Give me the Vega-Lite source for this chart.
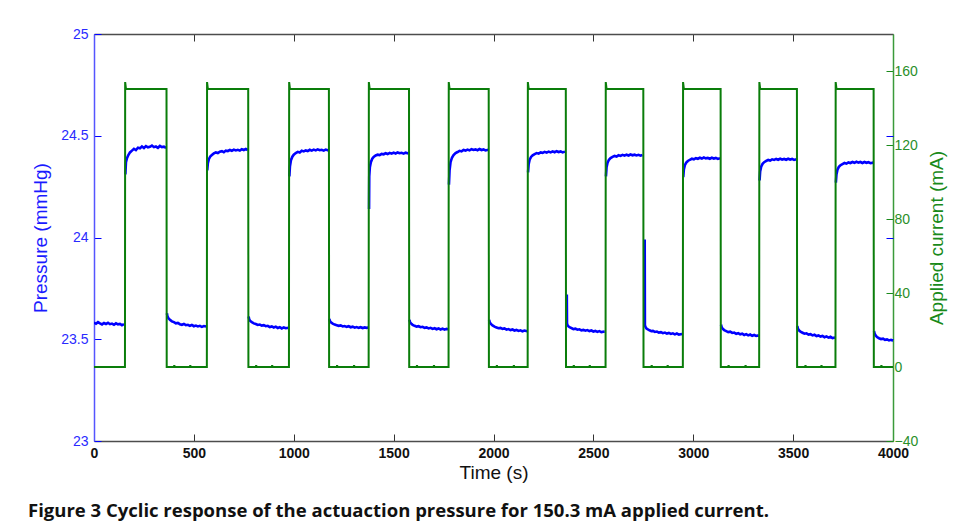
{
  "$schema": "https://vega.github.io/schema/vega-lite/v6.json",
  "width": 799,
  "height": 407,
  "autosize": {"type": "none"},
  "padding": {"left": 94, "top": 34, "right": 63, "bottom": 89},
  "background": "white",
  "config": {"view": {"stroke": null}},
  "title": {
    "text": "Figure 3 Cyclic response of the actuaction pressure for 150.3 mA applied current.",
    "orient": "bottom",
    "anchor": "start",
    "frame": "group",
    "dx": -66,
    "offset": 20,
    "font": "Open Sans",
    "fontSize": 18.5,
    "fontWeight": "bold",
    "color": "#111111"
  },
  "datasets": {
    "p": [
      {"t":0,"p":23.582,"s":0},{"t":10,"p":23.576,"s":0},{"t":20,"p":23.584,"s":0},{"t":30,"p":23.578,"s":0},{"t":40,"p":23.573,"s":0},{"t":50,"p":23.580,"s":0},{"t":60,"p":23.575,"s":0},{"t":70,"p":23.581,"s":0},{"t":80,"p":23.574,"s":0},{"t":90,"p":23.577,"s":0},{"t":100,"p":23.571,"s":0},{"t":110,"p":23.578,"s":0},{"t":120,"p":23.573,"s":0},{"t":130,"p":23.575,"s":0},{"t":140,"p":23.569,"s":0},{"t":150,"p":23.574,"s":0},
      {"t":157,"p":24.31,"s":1},{"t":160,"p":24.37,"s":1},{"t":165,"p":24.39,"s":1},{"t":172,"p":24.405,"s":1},{"t":180,"p":24.418,"s":1},{"t":190,"p":24.427,"s":1},{"t":200,"p":24.436,"s":1},{"t":210,"p":24.43,"s":1},{"t":220,"p":24.441,"s":1},{"t":230,"p":24.438,"s":1},{"t":240,"p":24.447,"s":1},{"t":250,"p":24.44,"s":1},{"t":260,"p":24.449,"s":1},{"t":270,"p":24.443,"s":1},{"t":280,"p":24.446,"s":1},{"t":290,"p":24.452,"s":1},{"t":300,"p":24.444,"s":1},{"t":310,"p":24.447,"s":1},{"t":320,"p":24.441,"s":1},{"t":330,"p":24.45,"s":1},{"t":340,"p":24.444,"s":1},{"t":350,"p":24.446,"s":1},{"t":361,"p":24.44,"s":1},
      {"t":365,"p":23.628,"s":2},{"t":368,"p":23.612,"s":2},{"t":373,"p":23.603,"s":2},{"t":380,"p":23.596,"s":2},{"t":390,"p":23.588,"s":2},{"t":400,"p":23.584,"s":2},{"t":410,"p":23.578,"s":2},{"t":420,"p":23.580,"s":2},{"t":430,"p":23.574,"s":2},{"t":440,"p":23.571,"s":2},{"t":450,"p":23.575,"s":2},{"t":460,"p":23.569,"s":2},{"t":470,"p":23.571,"s":2},{"t":480,"p":23.566,"s":2},{"t":490,"p":23.570,"s":2},{"t":500,"p":23.564,"s":2},{"t":510,"p":23.567,"s":2},{"t":520,"p":23.563,"s":2},{"t":530,"p":23.566,"s":2},{"t":540,"p":23.561,"s":2},{"t":550,"p":23.565,"s":2},{"t":563,"p":23.563,"s":2},
      {"t":567,"p":24.33,"s":3},{"t":570,"p":24.365,"s":3},{"t":575,"p":24.385,"s":3},{"t":582,"p":24.398,"s":3},{"t":590,"p":24.405,"s":3},{"t":600,"p":24.413,"s":3},{"t":610,"p":24.418,"s":3},{"t":620,"p":24.415,"s":3},{"t":630,"p":24.422,"s":3},{"t":640,"p":24.424,"s":3},{"t":650,"p":24.419,"s":3},{"t":660,"p":24.427,"s":3},{"t":670,"p":24.425,"s":3},{"t":680,"p":24.43,"s":3},{"t":690,"p":24.426,"s":3},{"t":700,"p":24.432,"s":3},{"t":710,"p":24.428,"s":3},{"t":720,"p":24.431,"s":3},{"t":730,"p":24.427,"s":3},{"t":740,"p":24.434,"s":3},{"t":750,"p":24.43,"s":3},{"t":760,"p":24.435,"s":3},{"t":770,"p":24.43,"s":3},
      {"t":774,"p":23.612,"s":4},{"t":777,"p":23.598,"s":4},{"t":782,"p":23.590,"s":4},{"t":790,"p":23.584,"s":4},{"t":800,"p":23.578,"s":4},{"t":810,"p":23.575,"s":4},{"t":820,"p":23.570,"s":4},{"t":830,"p":23.572,"s":4},{"t":840,"p":23.567,"s":4},{"t":850,"p":23.569,"s":4},{"t":860,"p":23.564,"s":4},{"t":870,"p":23.566,"s":4},{"t":880,"p":23.560,"s":4},{"t":890,"p":23.563,"s":4},{"t":900,"p":23.558,"s":4},{"t":910,"p":23.562,"s":4},{"t":920,"p":23.555,"s":4},{"t":930,"p":23.559,"s":4},{"t":940,"p":23.553,"s":4},{"t":950,"p":23.558,"s":4},{"t":960,"p":23.554,"s":4},{"t":974,"p":23.557,"s":4},
      {"t":978,"p":24.30,"s":5},{"t":981,"p":24.35,"s":5},{"t":986,"p":24.38,"s":5},{"t":993,"p":24.397,"s":5},{"t":1000,"p":24.407,"s":5},{"t":1010,"p":24.415,"s":5},{"t":1020,"p":24.421,"s":5},{"t":1030,"p":24.418,"s":5},{"t":1040,"p":24.426,"s":5},{"t":1050,"p":24.423,"s":5},{"t":1060,"p":24.428,"s":5},{"t":1070,"p":24.425,"s":5},{"t":1080,"p":24.431,"s":5},{"t":1090,"p":24.427,"s":5},{"t":1100,"p":24.432,"s":5},{"t":1110,"p":24.428,"s":5},{"t":1120,"p":24.433,"s":5},{"t":1130,"p":24.429,"s":5},{"t":1140,"p":24.431,"s":5},{"t":1150,"p":24.427,"s":5},{"t":1160,"p":24.432,"s":5},{"t":1174,"p":24.428,"s":5},
      {"t":1178,"p":23.600,"s":6},{"t":1181,"p":23.590,"s":6},{"t":1186,"p":23.583,"s":6},{"t":1195,"p":23.577,"s":6},{"t":1205,"p":23.572,"s":6},{"t":1215,"p":23.569,"s":6},{"t":1225,"p":23.566,"s":6},{"t":1235,"p":23.568,"s":6},{"t":1245,"p":23.563,"s":6},{"t":1255,"p":23.565,"s":6},{"t":1265,"p":23.561,"s":6},{"t":1275,"p":23.564,"s":6},{"t":1285,"p":23.559,"s":6},{"t":1295,"p":23.562,"s":6},{"t":1305,"p":23.557,"s":6},{"t":1315,"p":23.560,"s":6},{"t":1325,"p":23.556,"s":6},{"t":1335,"p":23.559,"s":6},{"t":1345,"p":23.555,"s":6},{"t":1355,"p":23.558,"s":6},{"t":1365,"p":23.556,"s":6},{"t":1373,"p":23.558,"s":6},
      {"t":1377,"p":24.14,"s":7},{"t":1378,"p":24.30,"s":7},{"t":1381,"p":24.345,"s":7},{"t":1386,"p":24.37,"s":7},{"t":1393,"p":24.387,"s":7},{"t":1400,"p":24.396,"s":7},{"t":1410,"p":24.403,"s":7},{"t":1420,"p":24.407,"s":7},{"t":1430,"p":24.405,"s":7},{"t":1440,"p":24.411,"s":7},{"t":1450,"p":24.409,"s":7},{"t":1460,"p":24.414,"s":7},{"t":1470,"p":24.41,"s":7},{"t":1480,"p":24.416,"s":7},{"t":1490,"p":24.412,"s":7},{"t":1500,"p":24.417,"s":7},{"t":1510,"p":24.413,"s":7},{"t":1520,"p":24.418,"s":7},{"t":1530,"p":24.414,"s":7},{"t":1540,"p":24.416,"s":7},{"t":1550,"p":24.412,"s":7},{"t":1560,"p":24.417,"s":7},{"t":1575,"p":24.413,"s":7},
      {"t":1579,"p":23.596,"s":8},{"t":1582,"p":23.585,"s":8},{"t":1587,"p":23.578,"s":8},{"t":1595,"p":23.571,"s":8},{"t":1605,"p":23.566,"s":8},{"t":1615,"p":23.562,"s":8},{"t":1625,"p":23.564,"s":8},{"t":1635,"p":23.559,"s":8},{"t":1645,"p":23.561,"s":8},{"t":1655,"p":23.556,"s":8},{"t":1665,"p":23.558,"s":8},{"t":1675,"p":23.553,"s":8},{"t":1685,"p":23.556,"s":8},{"t":1695,"p":23.551,"s":8},{"t":1705,"p":23.554,"s":8},{"t":1715,"p":23.549,"s":8},{"t":1725,"p":23.553,"s":8},{"t":1735,"p":23.548,"s":8},{"t":1745,"p":23.552,"s":8},{"t":1755,"p":23.547,"s":8},{"t":1765,"p":23.551,"s":8},{"t":1773,"p":23.549,"s":8},
      {"t":1777,"p":24.26,"s":9},{"t":1780,"p":24.33,"s":9},{"t":1785,"p":24.37,"s":9},{"t":1792,"p":24.392,"s":9},{"t":1800,"p":24.405,"s":9},{"t":1810,"p":24.415,"s":9},{"t":1820,"p":24.42,"s":9},{"t":1830,"p":24.426,"s":9},{"t":1840,"p":24.423,"s":9},{"t":1850,"p":24.43,"s":9},{"t":1860,"p":24.427,"s":9},{"t":1870,"p":24.432,"s":9},{"t":1880,"p":24.428,"s":9},{"t":1890,"p":24.434,"s":9},{"t":1900,"p":24.43,"s":9},{"t":1910,"p":24.433,"s":9},{"t":1920,"p":24.429,"s":9},{"t":1930,"p":24.435,"s":9},{"t":1940,"p":24.43,"s":9},{"t":1950,"p":24.433,"s":9},{"t":1960,"p":24.428,"s":9},{"t":1974,"p":24.431,"s":9},
      {"t":1978,"p":23.596,"s":10},{"t":1981,"p":23.584,"s":10},{"t":1986,"p":23.576,"s":10},{"t":1995,"p":23.568,"s":10},{"t":2005,"p":23.562,"s":10},{"t":2015,"p":23.558,"s":10},{"t":2025,"p":23.554,"s":10},{"t":2035,"p":23.556,"s":10},{"t":2045,"p":23.551,"s":10},{"t":2055,"p":23.553,"s":10},{"t":2065,"p":23.547,"s":10},{"t":2075,"p":23.550,"s":10},{"t":2085,"p":23.545,"s":10},{"t":2095,"p":23.548,"s":10},{"t":2105,"p":23.543,"s":10},{"t":2115,"p":23.546,"s":10},{"t":2125,"p":23.541,"s":10},{"t":2135,"p":23.544,"s":10},{"t":2145,"p":23.539,"s":10},{"t":2155,"p":23.543,"s":10},{"t":2169,"p":23.539,"s":10},
      {"t":2173,"p":24.32,"s":11},{"t":2176,"p":24.36,"s":11},{"t":2181,"p":24.382,"s":11},{"t":2188,"p":24.396,"s":11},{"t":2196,"p":24.404,"s":11},{"t":2206,"p":24.41,"s":11},{"t":2216,"p":24.415,"s":11},{"t":2226,"p":24.412,"s":11},{"t":2236,"p":24.418,"s":11},{"t":2246,"p":24.416,"s":11},{"t":2256,"p":24.421,"s":11},{"t":2266,"p":24.417,"s":11},{"t":2276,"p":24.422,"s":11},{"t":2286,"p":24.418,"s":11},{"t":2296,"p":24.423,"s":11},{"t":2306,"p":24.419,"s":11},{"t":2316,"p":24.424,"s":11},{"t":2326,"p":24.42,"s":11},{"t":2336,"p":24.423,"s":11},{"t":2346,"p":24.418,"s":11},{"t":2358,"p":24.422,"s":11},
      {"t":2367,"p":23.72,"s":12},{"t":2368,"p":23.578,"s":12},{"t":2371,"p":23.568,"s":12},{"t":2376,"p":23.563,"s":12},{"t":2383,"p":23.558,"s":12},{"t":2392,"p":23.554,"s":12},{"t":2400,"p":23.550,"s":12},{"t":2410,"p":23.552,"s":12},{"t":2420,"p":23.547,"s":12},{"t":2430,"p":23.549,"s":12},{"t":2440,"p":23.544,"s":12},{"t":2450,"p":23.546,"s":12},{"t":2460,"p":23.542,"s":12},{"t":2470,"p":23.545,"s":12},{"t":2480,"p":23.540,"s":12},{"t":2490,"p":23.543,"s":12},{"t":2500,"p":23.538,"s":12},{"t":2510,"p":23.541,"s":12},{"t":2520,"p":23.536,"s":12},{"t":2530,"p":23.540,"s":12},{"t":2540,"p":23.535,"s":12},{"t":2557,"p":23.538,"s":12},
      {"t":2563,"p":24.30,"s":13},{"t":2566,"p":24.345,"s":13},{"t":2571,"p":24.368,"s":13},{"t":2578,"p":24.382,"s":13},{"t":2586,"p":24.39,"s":13},{"t":2596,"p":24.396,"s":13},{"t":2606,"p":24.401,"s":13},{"t":2616,"p":24.398,"s":13},{"t":2626,"p":24.404,"s":13},{"t":2636,"p":24.401,"s":13},{"t":2646,"p":24.406,"s":13},{"t":2656,"p":24.402,"s":13},{"t":2666,"p":24.407,"s":13},{"t":2676,"p":24.403,"s":13},{"t":2686,"p":24.408,"s":13},{"t":2696,"p":24.404,"s":13},{"t":2706,"p":24.407,"s":13},{"t":2716,"p":24.403,"s":13},{"t":2726,"p":24.406,"s":13},{"t":2736,"p":24.402,"s":13},{"t":2746,"p":24.405,"s":13},
      {"t":2757,"p":23.99,"s":14},{"t":2758,"p":23.57,"s":14},{"t":2761,"p":23.56,"s":14},{"t":2766,"p":23.553,"s":14},{"t":2773,"p":23.548,"s":14},{"t":2781,"p":23.544,"s":14},{"t":2790,"p":23.540,"s":14},{"t":2798,"p":23.541,"s":14},{"t":2808,"p":23.536,"s":14},{"t":2818,"p":23.538,"s":14},{"t":2828,"p":23.533,"s":14},{"t":2838,"p":23.535,"s":14},{"t":2848,"p":23.530,"s":14},{"t":2858,"p":23.533,"s":14},{"t":2868,"p":23.528,"s":14},{"t":2878,"p":23.531,"s":14},{"t":2888,"p":23.526,"s":14},{"t":2898,"p":23.529,"s":14},{"t":2908,"p":23.524,"s":14},{"t":2918,"p":23.528,"s":14},{"t":2928,"p":23.523,"s":14},{"t":2944,"p":23.526,"s":14},
      {"t":2950,"p":24.296,"s":15},{"t":2953,"p":24.335,"s":15},{"t":2958,"p":24.355,"s":15},{"t":2965,"p":24.368,"s":15},{"t":2973,"p":24.376,"s":15},{"t":2983,"p":24.382,"s":15},{"t":2993,"p":24.387,"s":15},{"t":3003,"p":24.384,"s":15},{"t":3013,"p":24.39,"s":15},{"t":3023,"p":24.387,"s":15},{"t":3033,"p":24.392,"s":15},{"t":3043,"p":24.388,"s":15},{"t":3053,"p":24.393,"s":15},{"t":3063,"p":24.389,"s":15},{"t":3073,"p":24.391,"s":15},{"t":3083,"p":24.387,"s":15},{"t":3093,"p":24.392,"s":15},{"t":3103,"p":24.388,"s":15},{"t":3113,"p":24.391,"s":15},{"t":3123,"p":24.386,"s":15},{"t":3134,"p":24.389,"s":15},
      {"t":3139,"p":23.572,"s":16},{"t":3142,"p":23.56,"s":16},{"t":3147,"p":23.552,"s":16},{"t":3155,"p":23.545,"s":16},{"t":3165,"p":23.540,"s":16},{"t":3175,"p":23.535,"s":16},{"t":3185,"p":23.537,"s":16},{"t":3195,"p":23.531,"s":16},{"t":3205,"p":23.533,"s":16},{"t":3215,"p":23.527,"s":16},{"t":3225,"p":23.530,"s":16},{"t":3235,"p":23.524,"s":16},{"t":3245,"p":23.527,"s":16},{"t":3255,"p":23.521,"s":16},{"t":3265,"p":23.525,"s":16},{"t":3275,"p":23.519,"s":16},{"t":3285,"p":23.523,"s":16},{"t":3295,"p":23.517,"s":16},{"t":3305,"p":23.521,"s":16},{"t":3315,"p":23.516,"s":16},{"t":3328,"p":23.519,"s":16},
      {"t":3332,"p":24.28,"s":17},{"t":3335,"p":24.325,"s":17},{"t":3340,"p":24.348,"s":17},{"t":3347,"p":24.362,"s":17},{"t":3355,"p":24.37,"s":17},{"t":3365,"p":24.376,"s":17},{"t":3375,"p":24.381,"s":17},{"t":3385,"p":24.378,"s":17},{"t":3395,"p":24.384,"s":17},{"t":3405,"p":24.381,"s":17},{"t":3415,"p":24.386,"s":17},{"t":3425,"p":24.382,"s":17},{"t":3435,"p":24.387,"s":17},{"t":3445,"p":24.383,"s":17},{"t":3455,"p":24.386,"s":17},{"t":3465,"p":24.382,"s":17},{"t":3475,"p":24.387,"s":17},{"t":3485,"p":24.383,"s":17},{"t":3495,"p":24.386,"s":17},{"t":3505,"p":24.381,"s":17},{"t":3517,"p":24.384,"s":17},
      {"t":3521,"p":23.565,"s":18},{"t":3524,"p":23.552,"s":18},{"t":3529,"p":23.544,"s":18},{"t":3537,"p":23.537,"s":18},{"t":3547,"p":23.532,"s":18},{"t":3557,"p":23.527,"s":18},{"t":3567,"p":23.529,"s":18},{"t":3577,"p":23.523,"s":18},{"t":3587,"p":23.525,"s":18},{"t":3597,"p":23.519,"s":18},{"t":3607,"p":23.522,"s":18},{"t":3617,"p":23.516,"s":18},{"t":3627,"p":23.519,"s":18},{"t":3637,"p":23.513,"s":18},{"t":3647,"p":23.516,"s":18},{"t":3657,"p":23.510,"s":18},{"t":3667,"p":23.514,"s":18},{"t":3677,"p":23.508,"s":18},{"t":3687,"p":23.512,"s":18},{"t":3697,"p":23.506,"s":18},{"t":3710,"p":23.509,"s":18},
      {"t":3714,"p":24.27,"s":19},{"t":3717,"p":24.31,"s":19},{"t":3722,"p":24.333,"s":19},{"t":3729,"p":24.347,"s":19},{"t":3737,"p":24.355,"s":19},{"t":3747,"p":24.361,"s":19},{"t":3757,"p":24.366,"s":19},{"t":3767,"p":24.363,"s":19},{"t":3777,"p":24.369,"s":19},{"t":3787,"p":24.366,"s":19},{"t":3797,"p":24.371,"s":19},{"t":3807,"p":24.367,"s":19},{"t":3817,"p":24.372,"s":19},{"t":3827,"p":24.368,"s":19},{"t":3837,"p":24.371,"s":19},{"t":3847,"p":24.366,"s":19},{"t":3857,"p":24.371,"s":19},{"t":3867,"p":24.367,"s":19},{"t":3877,"p":24.37,"s":19},{"t":3887,"p":24.365,"s":19},{"t":3901,"p":24.368,"s":19},
      {"t":3905,"p":23.54,"s":20},{"t":3908,"p":23.528,"s":20},{"t":3913,"p":23.519,"s":20},{"t":3920,"p":23.511,"s":20},{"t":3930,"p":23.505,"s":20},{"t":3940,"p":23.501,"s":20},{"t":3950,"p":23.503,"s":20},{"t":3960,"p":23.497,"s":20},{"t":3970,"p":23.499,"s":20},{"t":3980,"p":23.494,"s":20},{"t":3990,"p":23.497,"s":20},{"t":4000,"p":23.493,"s":20}
    ],
    "c": [
      {"t":0,"c":0},{"t":155,"c":0},{"t":156,"c":154},{"t":160,"c":150.3},{"t":363,"c":150.3},{"t":364,"c":0},{"t":400,"c":0},{"t":402,"c":1},{"t":404,"c":0},{"t":480,"c":0},{"t":482,"c":1},{"t":484,"c":0},
      {"t":565,"c":0},{"t":566,"c":154},{"t":570,"c":150.3},{"t":772,"c":150.3},{"t":773,"c":0},{"t":810,"c":0},{"t":812,"c":1},{"t":814,"c":0},{"t":890,"c":0},{"t":892,"c":1},{"t":894,"c":0},
      {"t":976,"c":0},{"t":977,"c":154},{"t":981,"c":150.3},{"t":1176,"c":150.3},{"t":1177,"c":0},{"t":1215,"c":0},{"t":1217,"c":1},{"t":1219,"c":0},{"t":1300,"c":0},{"t":1302,"c":1},{"t":1304,"c":0},
      {"t":1375,"c":0},{"t":1376,"c":154},{"t":1380,"c":150.3},{"t":1577,"c":150.3},{"t":1578,"c":0},{"t":1615,"c":0},{"t":1617,"c":1},{"t":1619,"c":0},{"t":1700,"c":0},{"t":1702,"c":1},{"t":1704,"c":0},
      {"t":1775,"c":0},{"t":1776,"c":154},{"t":1780,"c":150.3},{"t":1976,"c":150.3},{"t":1977,"c":0},{"t":2015,"c":0},{"t":2017,"c":1},{"t":2019,"c":0},{"t":2100,"c":0},{"t":2102,"c":1},{"t":2104,"c":0},
      {"t":2171,"c":0},{"t":2172,"c":154},{"t":2176,"c":150.3},{"t":2362,"c":150.3},{"t":2363,"c":0},{"t":2400,"c":0},{"t":2402,"c":1},{"t":2404,"c":0},{"t":2480,"c":0},{"t":2482,"c":1},{"t":2484,"c":0},
      {"t":2561,"c":0},{"t":2562,"c":154},{"t":2566,"c":150.3},{"t":2750,"c":150.3},{"t":2751,"c":0},{"t":2790,"c":0},{"t":2792,"c":1},{"t":2794,"c":0},{"t":2870,"c":0},{"t":2872,"c":1},{"t":2874,"c":0},
      {"t":2948,"c":0},{"t":2949,"c":154},{"t":2953,"c":150.3},{"t":3137,"c":150.3},{"t":3138,"c":0},{"t":3175,"c":0},{"t":3177,"c":1},{"t":3179,"c":0},{"t":3260,"c":0},{"t":3262,"c":1},{"t":3264,"c":0},
      {"t":3330,"c":0},{"t":3331,"c":154},{"t":3335,"c":150.3},{"t":3519,"c":150.3},{"t":3520,"c":0},{"t":3560,"c":0},{"t":3562,"c":1},{"t":3564,"c":0},{"t":3640,"c":0},{"t":3642,"c":1},{"t":3644,"c":0},
      {"t":3712,"c":0},{"t":3713,"c":154},{"t":3717,"c":150.3},{"t":3903,"c":150.3},{"t":3904,"c":0},{"t":3940,"c":0},{"t":3942,"c":1},{"t":3944,"c":0},{"t":4000,"c":0}
    ]
  },
  "layer": [
    {
      "data": {"name": "p"},
      "mark": {"type": "line", "color": "#0000ff", "strokeWidth": 2.6, "clip": true},
      "encoding": {
        "x": {
          "field": "t", "type": "quantitative",
          "scale": {"domain": [0, 4000], "nice": false, "zero": false},
          "axis": {
            "orient": "bottom", "title": "Time (s)", "values": [0,500,1000,1500,2000,2500,3000,3500,4000], "format": "d",
            "grid": false, "domainColor": "#4d4d4d", "domainWidth": 1.5, "tickColor": "#333333", "tickSize": -7, "tickWidth": 1,
            "labelFont": "Liberation Sans", "labelFontSize": 14, "labelFontWeight": "bold", "labelColor": "#111111", "labelPadding": 12, "labelFlush": false,
            "titleFont": "Liberation Sans", "titleFontSize": 19, "titleFontWeight": "normal", "titleColor": "#111111", "titlePadding": 3
          }
        },
        "y": {
          "field": "p", "type": "quantitative",
          "scale": {"domain": [23, 25], "nice": false, "zero": false},
          "axis": {
            "orient": "left", "title": "Pressure (mmHg)", "values": [23, 23.5, 24, 24.5, 25], "format": "~g",
            "grid": false, "domainColor": "#5555ff", "domainWidth": 1.5, "tickColor": "#0000ff", "tickSize": -7, "tickWidth": 1,
            "labelFont": "Liberation Sans", "labelFontSize": 14, "labelColor": "#2a2aff", "labelPadding": 13, "labelFlush": false,
            "titleFont": "Liberation Sans", "titleFontSize": 19, "titleFontWeight": "normal", "titleColor": "#1a1aff", "titlePadding": 10
          }
        },
        "detail": {"field": "s", "type": "nominal"}
      }
    },
    {
      "data": {"name": "c"},
      "mark": {"type": "line", "color": "#0a7d0a", "strokeWidth": 2, "clip": true},
      "encoding": {
        "x": {
          "field": "t", "type": "quantitative",
          "scale": {"domain": [0, 4000], "nice": false, "zero": false},
          "axis": {
            "orient": "top", "title": null, "labels": false, "values": [0,500,1000,1500,2000,2500,3000,3500,4000],
            "grid": false, "domainColor": "#4d4d4d", "domainWidth": 1.5, "tickColor": "#333333", "tickSize": -7, "tickWidth": 1
          }
        },
        "y": {
          "field": "c", "type": "quantitative",
          "scale": {"domain": [-40, 180], "nice": false, "zero": false},
          "axis": {
            "orient": "right", "title": "Applied current (mA)", "titleAngle": 270, "titleBaseline": "top", "values": [-40, 0, 40, 80, 120, 160],
            "grid": false, "domainColor": "#3a9a3a", "domainWidth": 1.5, "tickColor": "#1a8a1a", "tickSize": -7, "tickWidth": 1,
            "labelFont": "Liberation Sans", "labelFontSize": 14, "labelColor": "#2a8f2a", "labelPadding": 8, "labelFlush": false,
            "titleFont": "Liberation Sans", "titleFontSize": 19, "titleFontWeight": "normal", "titleColor": "#1a8a1a", "titlePadding": 10
          }
        }
      }
    },
    {
      "data": {"name": "p"},
      "mark": {"type": "line", "opacity": 0},
      "encoding": {
        "x": {"field": "t", "type": "quantitative", "scale": {"domain": [0, 4000], "nice": false, "zero": false}, "axis": null},
        "y": {
          "field": "p", "type": "quantitative",
          "scale": {"domain": [23, 25], "nice": false, "zero": false},
          "axis": {
            "orient": "right", "title": null, "labels": false, "domain": false, "values": [23.5, 24, 24.5],
            "grid": false, "tickColor": "#0000ff", "tickSize": -7, "tickWidth": 1
          }
        }
      }
    }
  ],
  "resolve": {"scale": {"y": "independent"}, "axis": {"x": "independent", "y": "independent"}}
}
